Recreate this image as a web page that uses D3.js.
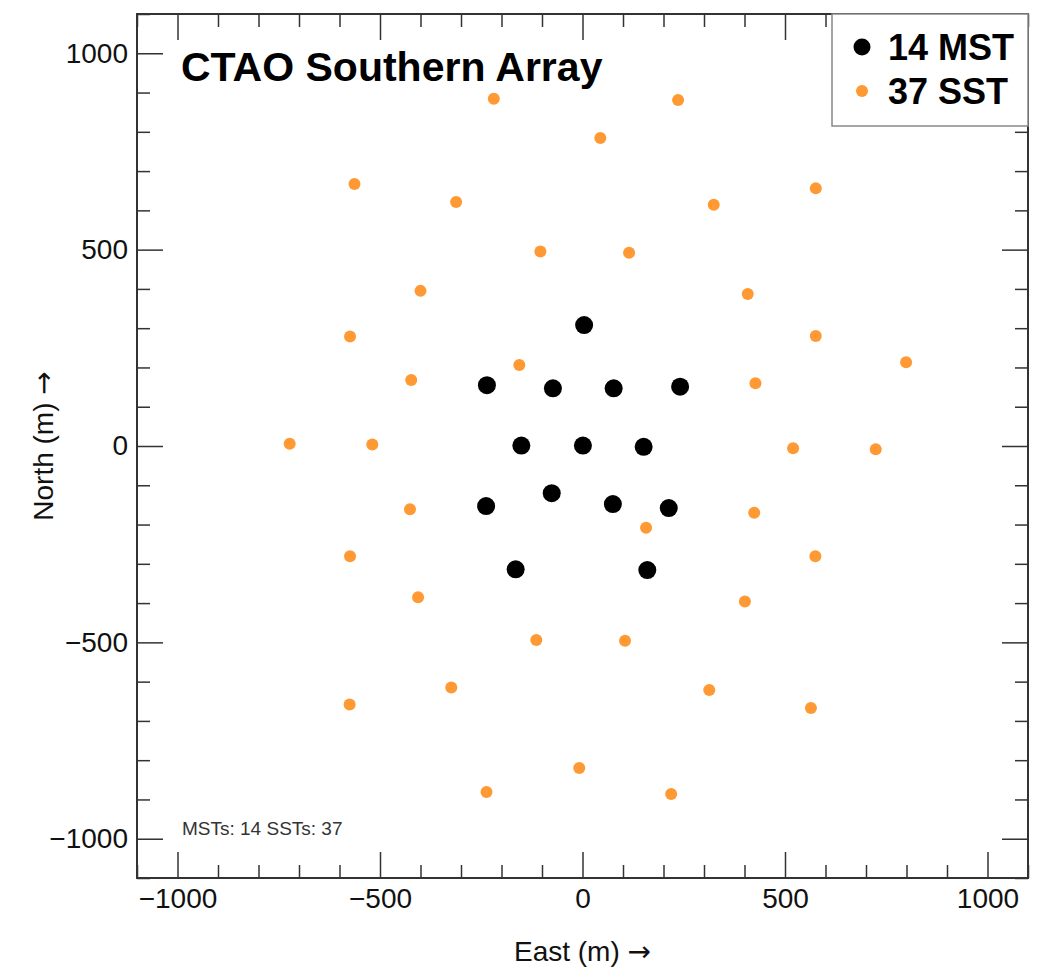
<!DOCTYPE html>
<html>
<head>
<meta charset="utf-8">
<script src="https://cdn.jsdelivr.net/npm/d3@7"></script>
<style>
  body { margin: 0; background: #fff; }
  svg text { font-family: "Liberation Sans", Arial, Helvetica, sans-serif; }
  .axis text { font-size: 28px; fill: #111; }
  .axis line { stroke: #333; stroke-width: 1.5; }
  .arrow { font-family: "DejaVu Sans", sans-serif; }
</style>
</head>
<body>
<div id="chart"></div>
<script>
// telescope positions (m)
var mstEast  = [4, -236, -73, 77, 241, -151, 1, 151, -76, -238, 75, 213, -165, 160];
var mstNorth = [308, 155, 147, 147, 151, 1, 1, -2, -120, -153, -148, -158, -314, -316];

var sstEast  = [-219, -563, -312, -104, -400, -574, -156,
                236, 44, 576, 324, 115, 408, 576, 799,
                -423, -723, -519, -426, -574, -406,
                427, 520, 724, 157, 424, 575, 401,
                -114, -324, -575, -237, -8,
                105, 313, 564, 219];
var sstNorth = [884, 667, 621, 495, 395, 279, 206,
                881, 784, 656, 614, 492, 387, 280, 213,
                168, 6, 4, -161, -281, -385,
                160, -6, -8, -208, -170, -281, -396,
                -494, -615, -658, -881, -820,
                -496, -621, -667, -886];

var majorTicks = [-1000, -500, 0, 500, 1000];
var minorTicks = d3.range(-1100, 1101, 100).filter(function(v) { return v % 500 !== 0; });

var legendItems = [
  {label: mstEast.length + " MST", color: "#000", r: 8.5},
  {label: sstEast.length + " SST", color: "#ff9933", r: 6}
];

function drawChart() {

  var W = 1040, H = 976;
  var plot = {left: 137, right: 1028, top: 14, bottom: 878};

  var svg = d3.select("#chart").append("svg")
    .attr("width", W)
    .attr("height", H);

  var x = d3.scaleLinear().domain([-1100, 1100]).range([plot.left, plot.right]);
  var y = d3.scaleLinear().domain([-1100, 1100]).range([plot.bottom, plot.top]);

  //////////////////////////// Axes ////////////////////////////

  function addAxis(axisFn, scale, transform, values, size, labels, pad) {
    var a = axisFn(scale).tickValues(values).tickSize(-size).tickPadding(pad || 0);
    a.tickFormat(labels ? d3.format("d") : "");
    var g = svg.append("g").attr("class", "axis")
      .attr("transform", transform)
      .call(a);
    g.select(".domain").remove();
    return g;
  }

  var bt = "translate(0," + plot.bottom + ")",
      tt = "translate(0," + plot.top + ")",
      lt = "translate(" + plot.left + ",0)",
      rt = "translate(" + plot.right + ",0)";

  addAxis(d3.axisBottom, x, bt, majorTicks, 26, true, 10);
  addAxis(d3.axisBottom, x, bt, minorTicks, 13, false);
  addAxis(d3.axisTop, x, tt, majorTicks, 26, false);
  addAxis(d3.axisTop, x, tt, minorTicks, 13, false);
  addAxis(d3.axisLeft, y, lt, majorTicks, 26, true, 9);
  addAxis(d3.axisLeft, y, lt, minorTicks, 13, false);
  addAxis(d3.axisRight, y, rt, majorTicks, 26, false);
  addAxis(d3.axisRight, y, rt, minorTicks, 13, false);

  // frame
  svg.append("rect")
    .attr("x", plot.left).attr("y", plot.top)
    .attr("width", plot.right - plot.left).attr("height", plot.bottom - plot.top)
    .style("fill", "none")
    .style("stroke", "#333")
    .style("stroke-width", 2);

  // axis titles
  var xTitle = svg.append("text")
    .attr("x", (plot.left + plot.right) / 2)
    .attr("y", 961)
    .style("text-anchor", "middle")
    .style("font-size", "28px")
    .style("fill", "#111");
  xTitle.append("tspan").text("East (m) ");
  xTitle.append("tspan").attr("class", "arrow").text("\u2192");

  var yTitle = svg.append("text")
    .attr("transform", "translate(53," + y(0) + ") rotate(-90)")
    .style("text-anchor", "middle")
    .style("font-size", "28px")
    .style("fill", "#111");
  yTitle.append("tspan").text("North (m) ");
  yTitle.append("tspan").attr("class", "arrow").text("\u2192");

  //////////////////////////// Points ////////////////////////////

  svg.selectAll(".sst")
    .data(d3.range(sstEast.length))
    .enter().append("circle")
    .attr("class", "sst")
    .attr("cx", function(i) { return x(sstEast[i]); })
    .attr("cy", function(i) { return y(sstNorth[i]); })
    .attr("r", 6)
    .style("fill", "#ff9933");

  svg.selectAll(".mst")
    .data(d3.range(mstEast.length))
    .enter().append("circle")
    .attr("class", "mst")
    .attr("cx", function(i) { return x(mstEast[i]); })
    .attr("cy", function(i) { return y(mstNorth[i]); })
    .attr("r", 9)
    .style("fill", "#000");

  //////////////////////////// Title & notes ////////////////////////////

  svg.append("text")
    .attr("x", 181)
    .attr("y", 81)
    .style("font-size", "41px")
    .style("font-weight", "bold")
    .style("fill", "#000")
    .text("CTAO Southern Array");

  svg.append("text")
    .attr("x", 182)
    .attr("y", 835)
    .style("font-size", "19px")
    .style("fill", "#333")
    .text("MSTs: " + mstEast.length + " SSTs: " + sstEast.length);

  //////////////////////////// Legend ////////////////////////////

  var legend = svg.append("g").attr("transform", "translate(832," + plot.top + ")");

  legend.append("rect")
    .attr("width", plot.right - 832)
    .attr("height", 112)
    .style("fill", "#fff")
    .style("stroke", "#888")
    .style("stroke-width", 1.5);

  var item = legend.selectAll(".legend-item")
    .data(legendItems)
    .enter().append("g")
    .attr("class", "legend-item")
    .attr("transform", function(d, i) { return "translate(0," + (33 + i * 44) + ")"; });

  item.append("circle")
    .attr("cx", 30)
    .attr("r", function(d) { return d.r; })
    .style("fill", function(d) { return d.color; });

  item.append("text")
    .attr("x", 56)
    .attr("dy", "0.36em")
    .style("font-size", "36px")
    .style("font-weight", "bold")
    .style("fill", "#000")
    .text(function(d) { return d.label; });
}

drawChart();
</script>
</body>
</html>
